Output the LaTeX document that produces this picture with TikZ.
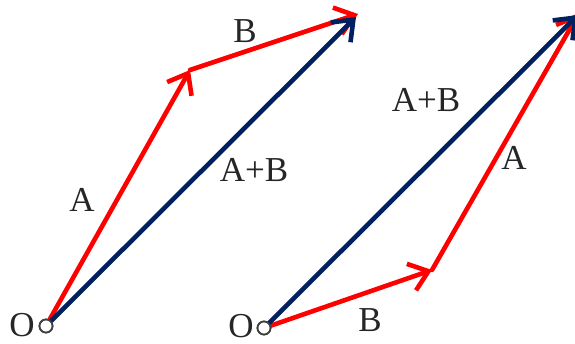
\documentclass[tikz,border=0pt]{standalone}
\usepackage{fontspec}
\setmainfont{Liberation Serif}
\usetikzlibrary{arrows.meta}
\definecolor{navy}{RGB}{0,32,96}
\definecolor{vred}{RGB}{255,0,0}
\tikzset{
  vec/.style={line width=4.6pt, line cap=round, line join=round,
    -{Straight Barb[length=18pt,width=28pt,line width=4.6pt]}},
  redvec/.style={vec, draw=vred},
  bluevec/.style={vec, draw=navy},
  origin/.style={circle, draw=black!75, line width=1.8pt, fill=white, minimum size=13pt, inner sep=0pt},
  lbl/.style={font=\fontsize{35}{38}\selectfont, inner sep=0pt, text=black!85}
}
\begin{document}
\begin{tikzpicture}[x=1pt,y=-1pt]
\useasboundingbox (0,0) rectangle (575,344);
% left diagram
\coordinate (LA) at (190,70);
\coordinate (LB) at (358,14);
\coordinate (LS) at (356,17);
\node[origin] (O1) at (46,326) {};
\draw[redvec] (O1) -- (LA);
\draw[redvec] (LA) -- (LB);
\draw[bluevec] (O1) -- (LS);
\node[origin] (O1c) at (46,326) {};
\node[lbl] (o1) at (22,325) {O};
\node[lbl] (a1) at (82,200) {A};
\node[lbl] (b1) at (245,31) {B};
\node[lbl] (s1) at (254,170) {A+B};
% right diagram
\coordinate (RB) at (432,270);
\coordinate (RA) at (579,13);
\coordinate (RS) at (578,15);
\node[origin] (O2) at (264,328) {};
\draw[redvec] (O2) -- (RB);
\draw[redvec] (RB) -- (RA);
\draw[bluevec] (O2) -- (RS);
\node[origin] (O2c) at (264,328) {};
\node[lbl] (o2) at (241,326) {O};
\node[lbl] (a2) at (514,158) {A};
\node[lbl] (b2) at (370,320) {B};
\node[lbl] (s2) at (426,100) {A+B};
\end{tikzpicture}
\end{document}
